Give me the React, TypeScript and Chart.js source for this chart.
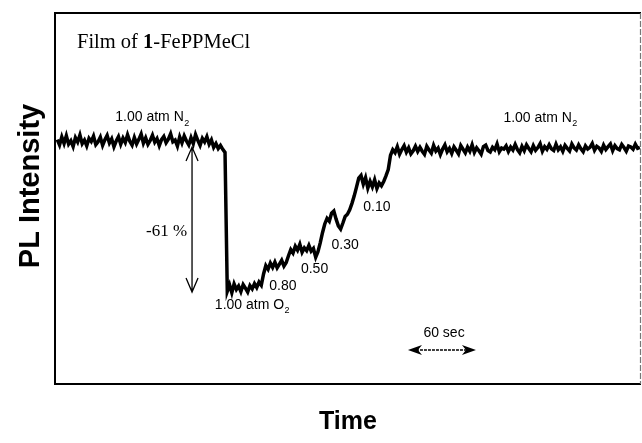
import React, { useEffect, useRef } from "react";
import { Chart, registerables } from "chart.js";

Chart.register(...registerables);

// ---- data ----
const SAMPLE_START_SEC = 2;
const SAMPLE_STEP_SEC = 2;

// PL intensity (baseline under N2 = 100)
const baselineN2 = [
  100.8, 98.6, 101.9, 99.2, 102.4, 98.9, 100.3, 97.9, 101.6, 99.8,
  102.7, 99.1, 100.6, 98.2, 101.3, 100.0, 102.2, 98.7, 99.9, 101.8,
  98.4, 100.7, 102.5, 99.4, 101.1, 97.8, 100.2, 102.0, 98.9, 101.4,
  99.6, 102.8, 100.1, 98.5, 101.7, 99.0, 100.9, 103.1, 99.3, 101.5,
  98.8, 100.4, 102.6, 99.7, 101.2, 98.3, 100.8, 102.1, 99.5, 101.0,
  103.2, 99.9, 100.6, 98.1, 101.9, 99.4, 102.3, 100.2, 98.6, 101.6,
  99.1, 102.9, 100.5, 98.4, 101.3, 99.8, 102.0, 98.9, 100.7, 97.6,
  99.2, 97.1, 98.4, 96.8,
];
const oxygenSteps = [
  95.5,
  38.2, 40.9, 37.6, 41.3, 39.0, 40.4, 38.1, 41.0, 39.5, 37.9, 40.6, 39.2, 41.4, 39.8, 42.0, 40.7,
  45.4, 48.8,
  47.3, 49.9, 48.1, 50.3, 47.9, 49.4, 51.0, 48.6, 50.1,
  52.9, 55.4,
  54.0, 56.8, 55.2, 57.6, 54.3, 56.1, 55.0, 57.2, 54.8, 55.9, 52.3,
  54.6, 58.2, 62.4, 66.0, 68.3,
  67.1, 70.4, 71.3, 68.0, 65.2, 63.9, 66.4, 69.1, 70.0, 71.8,
  74.5, 77.6, 81.2, 84.9, 86.0,
  82.4, 85.1, 80.8, 83.6, 81.3, 84.2, 80.6, 82.9, 81.7, 83.5, 85.8,
  88.4, 94.3, 96.6,
];
const recoveryN2 = [
  95.4, 97.9, 94.8, 96.7, 98.3, 95.6, 97.4, 94.9, 96.2, 98.1,
  95.9, 97.6, 96.0, 94.7, 98.0, 96.5, 95.2, 98.4, 96.1, 97.3,
  94.6, 96.9, 98.6, 95.8, 97.2, 95.1, 97.8, 96.4, 94.9, 98.3,
  96.8, 95.3, 97.7, 96.0, 98.7, 95.5, 97.4, 96.2, 94.8, 97.9,
  98.5, 96.3, 95.7, 97.6, 96.6, 99.0, 95.8, 97.3, 96.9, 98.2,
  95.9, 97.7, 96.5, 98.8, 96.7, 95.4, 98.0, 96.2, 98.6, 97.1,
  95.8, 98.3, 96.4, 97.5, 99.1, 96.0, 97.9, 96.8, 98.7, 97.0,
  96.3, 98.9, 96.6, 97.8, 95.9, 98.4, 97.2, 96.1, 99.0, 97.4,
  96.5, 98.6, 97.0, 95.8, 98.2, 96.9, 97.6, 99.2, 96.4, 98.0,
  97.3, 95.9, 98.5, 96.7, 97.9, 99.0, 96.2, 98.3, 97.1, 96.6,
  98.8, 97.5, 96.0, 98.1, 97.7, 96.8, 98.9, 97.2, 97.6,
];
const intensity = [...baselineN2, ...oxygenSteps, ...recoveryN2];
const timeSec = intensity.map((_, i) => SAMPLE_START_SEC + i * SAMPLE_STEP_SEC);

const X_MIN = 0;
const X_MAX = 517;
const Y_MIN = 0;
const Y_MAX = 153;

// annotation anchors (data coordinates: seconds, intensity)
const pressureLabels = ["0.80", "0.50", "0.30", "0.10"];
const pressureLabelT = [201, 229, 256, 284];
const pressureLabelI = [40.4, 47.4, 57.3, 73.0];

const TITLE = "Film of ";
const TITLE_BOLD = "1";
const TITLE_REST = "-FePPMeCl";
const Y_TITLE = "PL Intensity";
const X_TITLE = "Time";
const DROP_LABEL = "-61 %";
const SCALE_LABEL = "60 sec";

export default function App() {
  const ref = useRef<HTMLCanvasElement | null>(null);

  useEffect(() => {
    if (!ref.current) return;

    const overlay = {
      id: "overlay",
      afterDatasetsDraw(chart: any) {
        const ctx = chart.ctx as CanvasRenderingContext2D;
        const xs = chart.scales.x;
        const ys = chart.scales.y;
        const px = (t: number) => xs.getPixelForValue(t);
        const py = (v: number) => ys.getPixelForValue(v);
        const { left, right, top, bottom } = chart.chartArea;
        ctx.save();

        // frame
        ctx.strokeStyle = "#000";
        ctx.lineWidth = 2;
        ctx.beginPath();
        ctx.moveTo(right, top);
        ctx.lineTo(left, top);
        ctx.lineTo(left, bottom);
        ctx.lineTo(right, bottom);
        ctx.stroke();
        ctx.strokeStyle = "#777";
        ctx.lineWidth = 1.2;
        ctx.setLineDash([6, 2]);
        ctx.beginPath();
        ctx.moveTo(right - 0.5, top);
        ctx.lineTo(right - 0.5, bottom);
        ctx.stroke();
        ctx.setLineDash([]);

        // title
        ctx.fillStyle = "#000";
        ctx.textBaseline = "middle";
        ctx.textAlign = "left";
        let tx = left + 22;
        const ty = top + 30;
        ctx.font = "20.5px 'Liberation Serif'";
        ctx.fillText(TITLE, tx, ty);
        tx += ctx.measureText(TITLE).width;
        ctx.font = "bold 20.5px 'Liberation Serif'";
        ctx.fillText(TITLE_BOLD, tx, ty);
        tx += ctx.measureText(TITLE_BOLD).width;
        ctx.font = "20.5px 'Liberation Serif'";
        ctx.fillText(TITLE_REST, tx, ty);

        // gas labels with subscript
        const gasLabel = (cx: number, cy: number, main: string, sub: string) => {
          ctx.font = "14px 'Liberation Sans'";
          const w1 = ctx.measureText(main).width;
          ctx.font = "9px 'Liberation Sans'";
          const w2 = ctx.measureText(sub).width;
          const x0 = cx - (w1 + w2) / 2;
          ctx.textAlign = "left";
          ctx.font = "14px 'Liberation Sans'";
          ctx.fillText(main, x0, cy);
          ctx.font = "9px 'Liberation Sans'";
          ctx.fillText(sub, x0 + w1 + 0.5, cy + 6);
        };
        gasLabel(px(85.6), py(110.1), "1.00 atm N", "2");
        gasLabel(px(428), py(109.7), "1.00 atm N", "2");
        gasLabel(px(173.8), py(32.6), "1.00 atm O", "2");

        // pressure step labels
        ctx.font = "14px 'Liberation Sans'";
        ctx.textAlign = "center";
        pressureLabels.forEach((s, i) => {
          ctx.fillText(s, px(pressureLabelT[i]), py(pressureLabelI[i]));
        });

        // vertical -61% arrow (open heads)
        const ax = px(120.9);
        const ay1 = py(97.7);
        const ay2 = py(37.9);
        ctx.strokeStyle = "#000";
        ctx.lineWidth = 1.3;
        ctx.beginPath();
        ctx.moveTo(ax, ay1);
        ctx.lineTo(ax, ay2);
        ctx.moveTo(ax - 6, ay1 + 14);
        ctx.lineTo(ax, ay1);
        ctx.lineTo(ax + 6, ay1 + 14);
        ctx.moveTo(ax - 6, ay2 - 14);
        ctx.lineTo(ax, ay2);
        ctx.lineTo(ax + 6, ay2 - 14);
        ctx.stroke();
        ctx.font = "17px 'Liberation Serif'";
        ctx.textAlign = "right";
        ctx.fillText(DROP_LABEL, px(116.5), py(62.7));

        // 60 sec scale arrow (filled heads)
        const sx1 = px(311.4);
        const sx2 = px(371.4);
        const sy = py(14.0);
        ctx.lineWidth = 1.5;
        ctx.setLineDash([3, 1]);
        ctx.beginPath();
        ctx.moveTo(sx1 + 8, sy);
        ctx.lineTo(sx2 - 8, sy);
        ctx.stroke();
        ctx.setLineDash([]);
        ctx.fillStyle = "#000";
        ctx.beginPath();
        ctx.moveTo(sx1, sy);
        ctx.lineTo(sx1 + 14, sy - 5);
        ctx.lineTo(sx1 + 10, sy);
        ctx.lineTo(sx1 + 14, sy + 5);
        ctx.closePath();
        ctx.fill();
        ctx.beginPath();
        ctx.moveTo(sx2, sy);
        ctx.lineTo(sx2 - 14, sy - 5);
        ctx.lineTo(sx2 - 10, sy);
        ctx.lineTo(sx2 - 14, sy + 5);
        ctx.closePath();
        ctx.fill();
        ctx.font = "14px 'Liberation Sans'";
        ctx.textAlign = "center";
        ctx.fillText(SCALE_LABEL, px(343.2), py(21.0));

        // axis titles
        ctx.font = "bold 25px 'Liberation Sans'";
        ctx.textAlign = "center";
        ctx.fillText(X_TITLE, 348, 422);
        ctx.save();
        ctx.translate(31, 186);
        ctx.rotate(-Math.PI / 2);
        ctx.font = "bold 29px 'Liberation Sans'";
        ctx.fillText(Y_TITLE, 0, 0);
        ctx.restore();

        ctx.restore();
      },
    };

    const chart = new Chart(ref.current, {
      type: "line",
      data: {
        labels: timeSec,
        datasets: [
          {
            data: timeSec.map((t, i) => ({ x: t, y: intensity[i] })),
            borderColor: "#000",
            borderWidth: 3.5,
            pointRadius: 0,
            tension: 0,
            fill: false,
          },
        ],
      },
      options: {
        responsive: false,
        animation: false,
        layout: { padding: { left: 55, top: 13, right: 1, bottom: 59 } },
        scales: {
          x: { type: "linear", min: X_MIN, max: X_MAX, display: false },
          y: { type: "linear", min: Y_MIN, max: Y_MAX, display: false },
        },
        plugins: { legend: { display: false }, tooltip: { enabled: false } },
      },
      plugins: [overlay],
    });
    return () => chart.destroy();
  }, []);

  return (
    <div style={{ position: "fixed", left: 0, top: 0, width: 642, height: 443, background: "#fff" }}>
      <canvas ref={ref} width={642} height={443} />
    </div>
  );
}
